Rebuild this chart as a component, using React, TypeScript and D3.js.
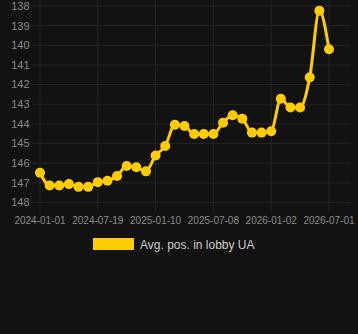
import React from "react";
import * as d3 from "d3";

const dates = [
  "2024-01-01","2024-02-03","2024-03-07","2024-04-09","2024-05-12","2024-06-15",
  "2024-07-19","2024-08-17","2024-09-15","2024-10-14","2024-11-12","2024-12-11",
  "2025-01-10","2025-02-08","2025-03-09","2025-04-08","2025-05-08","2025-06-07",
  "2025-07-08","2025-08-06","2025-09-04","2025-10-04","2025-11-03","2025-12-03",
  "2026-01-02","2026-02-01","2026-03-03","2026-04-02","2026-05-02","2026-06-01",
  "2026-07-01",
];
const values = [
  146.48, 147.13, 147.13, 147.06, 147.2, 147.2,
  146.96, 146.89, 146.65, 146.14, 146.2, 146.41,
  145.6, 145.12, 144.04, 144.1, 144.51, 144.51,
  144.51, 143.94, 143.56, 143.73, 144.44, 144.44,
  144.37, 142.72, 143.16, 143.16, 141.63, 138.24,
  140.2,
];
const yTicks = [138, 139, 140, 141, 142, 143, 144, 145, 146, 147, 148];
const xTickLabels = ["2024-01-01", "2024-07-19", "2025-01-10", "2025-07-08", "2026-01-02", "2026-07-01"];
const seriesName = "Avg. pos. in lobby UA";

const W = 358, H = 334;
const LINE = "#ffcc00";

export default function App() {
  const x = d3.scalePoint<string>().domain(dates).range([40, 329]);
  const y = d3.scaleLinear().domain([138, 148]).range([6, 202.6]);
  const line = d3
    .line<number>()
    .x((_, i) => x(dates[i])!)
    .y((d) => y(d))
    .curve(d3.curveMonotoneX);
  const font = "'Liberation Sans', Arial, Helvetica, sans-serif";
  return (
    <svg width={W} height={H} style={{ position: "absolute", left: 0, top: 0, background: "#121212" }} fontFamily={font}>
      <rect x={0} y={0} width={W} height={H} fill="#121212" />
      {yTicks.map((t) => (
        <g key={t}>
          <line x1={32} x2={350} y1={y(t)} y2={y(t)} stroke="#262626" strokeWidth={1} />
          <text x={29.5} y={y(t)} dy="0.35em" textAnchor="end" fontSize={11} fill="#8a8a8a">
            {t}
          </text>
        </g>
      ))}
      {xTickLabels.map((d) => (
        <g key={d}>
          <line x1={x(d)!} x2={x(d)!} y1={0} y2={212} stroke="#262626" strokeWidth={1} />
          <text x={x(d)!} y={224} textAnchor="middle" fontSize={10} fill="#8a8a8a">
            {d}
          </text>
        </g>
      ))}
      <path d={line(values) || ""} fill="none" stroke={LINE} strokeWidth={3} />
      {values.map((v, i) => (
        <circle key={i} cx={x(dates[i])!} cy={y(v)} r={5} fill={LINE} />
      ))}
      <rect x={93} y={238} width={41} height={12} fill={LINE} />
      <text x={140} y={248.5} fontSize={12} fill="#cccccc">
        {seriesName}
      </text>
    </svg>
  );
}
